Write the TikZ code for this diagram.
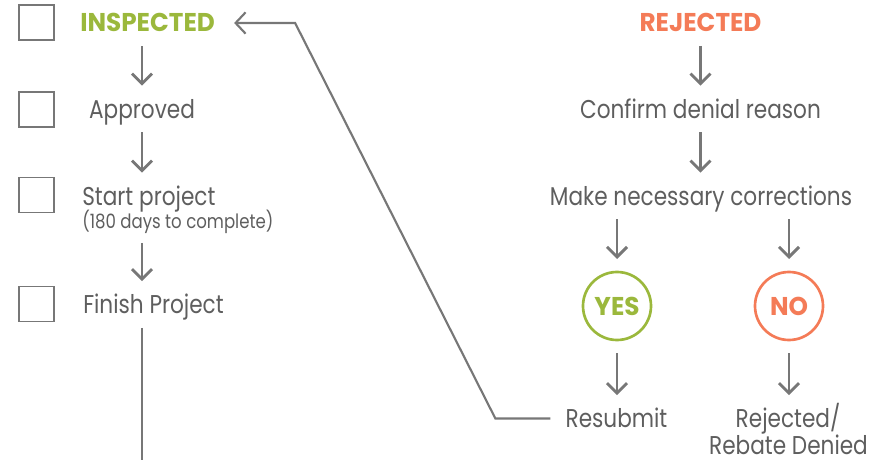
\documentclass[tikz,border=0pt]{standalone}
\usepackage{fontspec}
\setmainfont{Poppins}[UprightFeatures={FakeStretch=0.84}, BoldFeatures={FakeStretch=0.96}]
\usetikzlibrary{arrows.meta, calc, positioning}
\definecolor{okgreen}{HTML}{9BB83C}
\definecolor{badred}{HTML}{F47B57}
\definecolor{ink}{HTML}{5E5E5E}
\definecolor{wire}{HTML}{777777}

\begin{document}
\begin{tikzpicture}[x=0.75pt, y=-0.75pt]
 \tikzstyle{T}    = [text=ink, font=\fontsize{19.3}{23}\selectfont, text height=13.5pt, text depth=0pt, inner xsep=11.25pt, inner ysep=10.5pt]
 \tikzstyle{H}    = [T, font=\fontsize{19.3}{23}\selectfont\bfseries]
 \tikzstyle{N}    = [T, font=\fontsize{14.8}{17}\selectfont, text height=10pt]
 \tikzstyle{box}  = [draw=wire, line width=1.4pt, rectangle, minimum size=26.25pt, inner sep=0pt]
 \tikzstyle{R}    = [draw, circle, line width=2pt, minimum size=51pt, inner sep=0pt, outer sep=9.75pt, font=\fontsize{19.3}{23}\selectfont\bfseries]
 \tikzstyle{go}   = [draw=wire, line width=2.2pt, -{Straight Barb[length=7.5pt, width=15pt]}]
 \tikzstyle{back} = [draw=wire, line width=1.6pt, -{Straight Barb[length=7.5pt, width=16pt]}]
 \useasboundingbox (0,0) rectangle (890,460);

 % check boxes
 \node [box] (c1) at (36.5,22.5)  {};
 \node [box] (c2) at (36.5,109.5) {};
 \node [box] (c3) at (36.5,195)   {};
 \node [box] (c4) at (36.5,304)   {};

 % left column
 \node [H, text=okgreen, anchor=west] (insp)  at (65,23)    {INSPECTED};
 \node [T]                            (appr)  at (142,109)  {Approved};
 \node [T, anchor=west]               (start) at (67,196)   {Start project};
 \node [N, anchor=west]               (note)  at (67,222)   {(180 days to complete)};
 \node [T, anchor=west]               (fin)   at (68,304.5) {Finish Project};
 \coordinate (tail) at (142,462);

 % right column
 \node [H, text=badred] (rej)   at (700.5,22.5) {REJECTED};
 \node [T]              (conf)  at (700.5,109)  {Confirm denial reason};
 \node [T]              (fix)   at (701,196)    {Make necessary corrections};
 \node [R, okgreen]     (yes)   at (617,306)    {YES};
 \node [R, badred]      (no)    at (789,306)    {NO};
 \node [T]              (resub) at (616.5,418.5) {Resubmit};
 \node [T]              (den)   at (788,418.5)  {Rejected/};
 \node [T]              (den2)  at (788.5,445) {Rebate Denied};

 \draw [go] (insp.south -| appr) -- (appr.north);
 \draw [go] (appr.south) -- (appr.south |- start.north);
 \draw [go] (note.south -| appr) -- (fin.north -| appr);
 \draw [go, -] (fin.south -| appr) -- (tail);

 \draw [go] (rej.south) -- (conf.north -| rej);
 \draw [go] (conf.south) -- (fix.north -| conf);
 \draw [go] (fix.south -| yes) -- (yes.north);
 \draw [go] (fix.south -| no) -- (no.north);
 \draw [go] (yes.south) -- (resub.north -| yes);
 \draw [go] (no.south) -- (den.north -| no);

 % back to inspection
 \draw [back] (resub.west) -- ++(-55,0) -- ($(insp.east)+(65,0)$) -- ([xshift=3pt]insp.east);
\end{tikzpicture}
\end{document}
